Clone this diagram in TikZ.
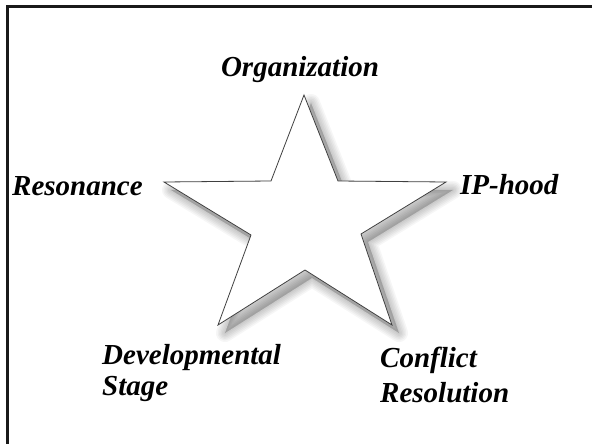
\documentclass[tikz,border=0pt]{standalone}
\usepackage{fontspec}
\setmainfont{Liberation Serif}
\begin{document}
\begin{tikzpicture}[x=1pt,y=-1pt,
  lbl/.style={font=\fontsize{29}{31}\selectfont\bfseries\itshape, inner sep=0pt, anchor=base west}]
\useasboundingbox (0,0) rectangle (592,444);
\fill[white] (0,0) rectangle (592,444);
% frame (only left and top visible)
\draw[line width=2.4pt, black!90] (7.5,450) -- (7.5,6.5) -- (600,6.5);
% star corners
\coordinate (t)  at (304,95);
\coordinate (ir) at (338,181);
\coordinate (r)  at (446,182);
\coordinate (lr) at (361,234);
\coordinate (br) at (392,325);
\coordinate (bi) at (305,270);
\coordinate (bl) at (218,325);
\coordinate (ll) at (251,235);
\coordinate (l)  at (164,182);
\coordinate (il) at (271,181);
% soft shadow
\foreach \w in {18,15,12,9,6,3}{
  \filldraw[black, opacity=0.035, line width=\w pt, line join=round, transform canvas={shift={(7,8)}}]
    (t) -- (ir) -- (r) -- (lr) -- (br) -- (bi) -- (bl) -- (ll) -- (l) -- (il) -- cycle;
}
% star
\filldraw[fill=white, draw=black!75, line width=0.8pt, line join=miter]
  (t) -- (ir) -- (r) -- (lr) -- (br) -- (bi) -- (bl) -- (ll) -- (l) -- (il) -- cycle;
% labels
\node[lbl, anchor=base] (org) at (300,77) {Organization};
\node[lbl] (res) at (12,195) {Resonance};
\node[lbl] (ip) at (460,194) {IP-hood};
\node[lbl] (dev1) at (102,364) {Developmental};
\node[lbl] (dev2) at (102,395) {Stage};
\node[lbl] (con1) at (380,367) {Conflict};
\node[lbl] (con2) at (380,402) {Resolution};
\end{tikzpicture}
\end{document}
